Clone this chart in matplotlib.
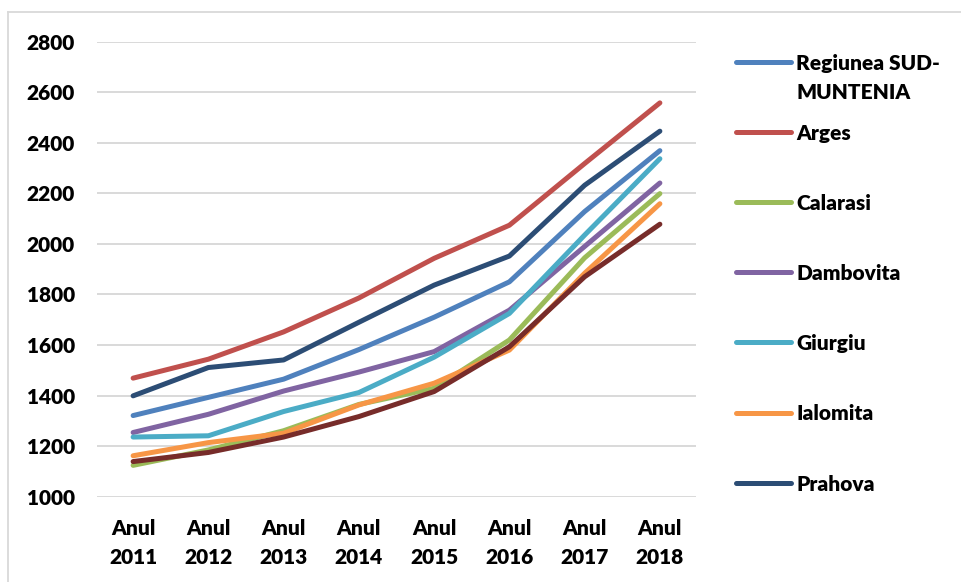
import matplotlib
matplotlib.use('Agg')
import matplotlib.pyplot as plt
from matplotlib.lines import Line2D

plt.rcParams['font.family'] = ['Lato', 'DejaVu Sans']
plt.rcParams['font.weight'] = 'heavy'

years = ['Anul\n2011', 'Anul\n2012', 'Anul\n2013', 'Anul\n2014',
         'Anul\n2015', 'Anul\n2016', 'Anul\n2017', 'Anul\n2018']

regiunea = [1321, 1393, 1465, 1582, 1710, 1850, 2128, 2369]
arges = [1469, 1544, 1652, 1786, 1943, 2074, 2318, 2558]
calarasi = [1124, 1185, 1261, 1365, 1429, 1620, 1945, 2199]
dambovita = [1254, 1326, 1418, 1493, 1574, 1738, 1990, 2241]
giurgiu = [1236, 1241, 1337, 1412, 1552, 1725, 2035, 2337]
ialomita = [1162, 1214, 1251, 1363, 1449, 1580, 1884, 2159]
prahova = [1399, 1511, 1541, 1690, 1837, 1952, 2232, 2446]
teleorman = [1139, 1175, 1236, 1317, 1416, 1593, 1870, 2078]

series = [
    ('Regiunea SUD-\nMUNTENIA', regiunea, '#4F81BD'),
    ('Arges', arges, '#C0504D'),
    ('Calarasi', calarasi, '#9BBB59'),
    ('Dambovita', dambovita, '#8064A2'),
    ('Giurgiu', giurgiu, '#4BACC6'),
    ('Ialomita', ialomita, '#F79646'),
    ('Prahova', prahova, '#2C4D75'),
    ('Teleorman', teleorman, '#772C2A'),
]

W, H = 961, 582
fig = plt.figure(figsize=(W / 100, H / 100), dpi=100)
ax = fig.add_axes([97 / W, 1 - 496.7 / H, (696 - 97) / W, (496.7 - 41.7) / H])

x = range(len(years))
for label, vals, color in series:
    ax.plot(x, vals, color=color, lw=3.6, solid_capstyle='round',
            solid_joinstyle='round')

ax.set_xlim(-0.48, 7.48)
ax.set_ylim(1000, 2800)
ax.set_yticks(range(1000, 2801, 200))
ax.set_xticks(list(x))
ax.set_xticklabels(years, linespacing=1.6)
ax.grid(axis='y', color='#D9D9D9', lw=1.4)
ax.set_axisbelow(True)
for s in ax.spines.values():
    s.set_visible(False)
ax.tick_params(axis='y', length=0, pad=16, labelsize=15)
ax.tick_params(axis='x', length=0, pad=16, labelsize=15)

# outer chart frame (only top and left edges visible in the crop)
frame_col = '#D9D9D9'
fig.add_artist(Line2D([8 / W, 8 / W], [1 - 12 / H, 0], color=frame_col, lw=1.3,
                      transform=fig.transFigure))
fig.add_artist(Line2D([8 / W, 1], [1 - 12 / H, 1 - 12 / H], color=frame_col, lw=1.3,
                      transform=fig.transFigure))

# legend (last series falls outside the visible area)
for i, (label, vals, color) in enumerate(series[:7]):
    yc = 62 + 70.1 * i
    fig.add_artist(Line2D([736 / W, 791 / W], [1 - yc / H, 1 - yc / H], color=color,
                          lw=3.6, solid_capstyle='round', transform=fig.transFigure))
    for j, line in enumerate(label.split('\n')):
        fig.text(796 / W, 1 - (yc + 29 * j) / H, line, fontsize=15,
                 fontweight='heavy', va='center_baseline', ha='left')

fig.savefig('out.png', dpi=100)
